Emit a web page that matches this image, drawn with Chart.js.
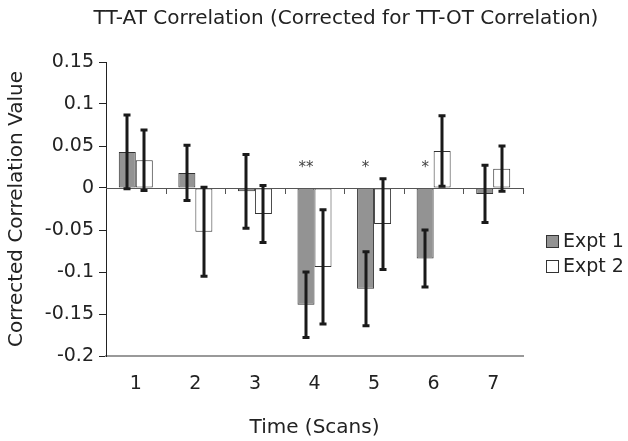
<!DOCTYPE html>
<html>
<head>
<meta charset="utf-8">
<script src="https://cdn.jsdelivr.net/npm/chart.js@4.4.0/dist/chart.umd.min.js"></script>
<style>
  html, body { margin: 0; padding: 0; background: #fff; }
  #wrap { width: 628px; height: 441px; }
</style>
</head>
<body>
<div id="wrap"><canvas id="corrChart" width="628" height="441"></canvas></div>
<script>
const categories = ['1', '2', '3', '4', '5', '6', '7'];
const expt1 = [0.043, 0.018, -0.004, -0.139, -0.120, -0.084, -0.007];
const expt1Err = [0.044, 0.033, 0.044, 0.039, 0.044, 0.034, 0.034];
const expt2 = [0.033, -0.052, -0.031, -0.094, -0.043, 0.044, 0.023];
const expt2Err = [0.036, 0.053, 0.034, 0.068, 0.054, 0.042, 0.027];
const stars = ['', '', '', '**', '*', '*', ''];
const yTicks = [-0.2, -0.15, -0.1, -0.05, 0, 0.05, 0.1, 0.15];

const FONT = '"DejaVu Sans", Verdana, sans-serif';
const TEXT = '#222';
const GREY = '#939393';

// error bars, zero line, asterisks, title and legend
const extras = {
  id: 'extras',
  afterDatasetsDraw(chart) {
    const ctx = chart.ctx;
    const x = chart.scales.x, y = chart.scales.y;
    const area = chart.chartArea;
    const y0 = y.getPixelForValue(0);

    // zero line with category tick marks
    ctx.save();
    ctx.strokeStyle = '#555';
    ctx.lineWidth = 1;
    ctx.beginPath();
    ctx.moveTo(area.left, y0 + 0.5);
    ctx.lineTo(area.right, y0 + 0.5);
    const step = (area.right - area.left) / categories.length;
    for (let i = 1; i <= categories.length; i++) {
      const tx = Math.round(area.left + step * i) + 0.5;
      ctx.moveTo(tx, y0);
      ctx.lineTo(tx, y0 + 6);
    }
    ctx.stroke();

    // error bars
    const sets = [[expt1, expt1Err], [expt2, expt2Err]];
    ctx.strokeStyle = '#1a1a1a';
    ctx.lineWidth = 3;
    sets.forEach(([vals, errs], d) => {
      const meta = chart.getDatasetMeta(d);
      meta.data.forEach((bar, i) => {
        const bx = Math.round(bar.x);
        const top = y.getPixelForValue(vals[i] + errs[i]);
        const bot = y.getPixelForValue(vals[i] - errs[i]);
        ctx.beginPath();
        ctx.moveTo(bx, top);
        ctx.lineTo(bx, bot);
        ctx.moveTo(bx - 3.5, top);
        ctx.lineTo(bx + 3.5, top);
        ctx.moveTo(bx - 3.5, bot);
        ctx.lineTo(bx + 3.5, bot);
        ctx.stroke();
      });
    });

    // significance asterisks above Expt 1 bars
    ctx.fillStyle = '#444';
    ctx.font = '15px ' + FONT;
    ctx.textAlign = 'center';
    ctx.textBaseline = 'middle';
    const m1 = chart.getDatasetMeta(0);
    stars.forEach((s, i) => {
      if (s) ctx.fillText(s, m1.data[i].x, y.getPixelForValue(0.027) + 3);
    });

    // title
    ctx.fillStyle = TEXT;
    ctx.font = '20px ' + FONT;
    ctx.fillText('TT-AT Correlation (Corrected for TT-OT Correlation)', 346, 19);

    // legend
    const items = [['Expt 1', GREY], ['Expt 2', '#fff']];
    ctx.font = '19px ' + FONT;
    ctx.textAlign = 'left';
    items.forEach(([label, fill], k) => {
      const cy = 241 + k * 25;
      ctx.fillStyle = fill;
      ctx.fillRect(546, cy - 6, 13, 13);
      ctx.strokeStyle = '#333';
      ctx.lineWidth = 1;
      ctx.strokeRect(546.5, cy - 5.5, 12, 12);
      ctx.fillStyle = TEXT;
      ctx.fillText(label, 563, cy + 1);
    });
    ctx.restore();
  }
};

new Chart(document.getElementById('corrChart').getContext('2d'), {
  type: 'bar',
  data: {
    labels: categories,
    datasets: [
      {
        label: 'Expt 1',
        data: expt1,
        backgroundColor: GREY,
        borderColor: '#333',
        borderWidth: 1,
        borderSkipped: false
      },
      {
        label: 'Expt 2',
        data: expt2,
        backgroundColor: '#fff',
        borderColor: '#333',
        borderWidth: 1,
        borderSkipped: false
      }
    ]
  },
  options: {
    responsive: false,
    animation: false,
    layout: { padding: { top: 62, right: 105, bottom: 0, left: 0 } },
    categoryPercentage: 0.571,
    barPercentage: 1,
    plugins: {
      legend: { display: false },
      tooltip: { enabled: false }
    },
    scales: {
      x: {
        grid: { display: true, drawOnChartArea: false, drawTicks: false },
        border: { display: true, color: '#999', width: 2 },
        ticks: { color: TEXT, font: { family: FONT, size: 19 }, padding: 17 },
        title: {
          display: true,
          text: 'Time (Scans)',
          color: TEXT,
          font: { family: FONT, size: 20 },
          padding: { top: 0, bottom: 1 }
        },
        afterFit(scale) { scale.height = 85; }
      },
      y: {
        min: -0.2,
        max: 0.15,
        afterBuildTicks(scale) {
          scale.ticks = yTicks.map(v => ({ value: v }));
        },
        grid: { display: true, drawOnChartArea: false, drawTicks: true, tickLength: 7, color: '#222' },
        border: { display: true, color: '#222', width: 1 },
        ticks: {
          color: TEXT,
          font: { family: FONT, size: 19 },
          padding: 5,
          callback: v => String(v)
        },
        title: {
          display: true,
          text: 'Corrected Correlation Value',
          color: TEXT,
          font: { family: FONT, size: 20 },
          padding: { top: 5, bottom: 0 }
        },
        afterFit(scale) { scale.width = 106; }
      }
    }
  },
  plugins: [extras]
});
</script>
</body>
</html>
